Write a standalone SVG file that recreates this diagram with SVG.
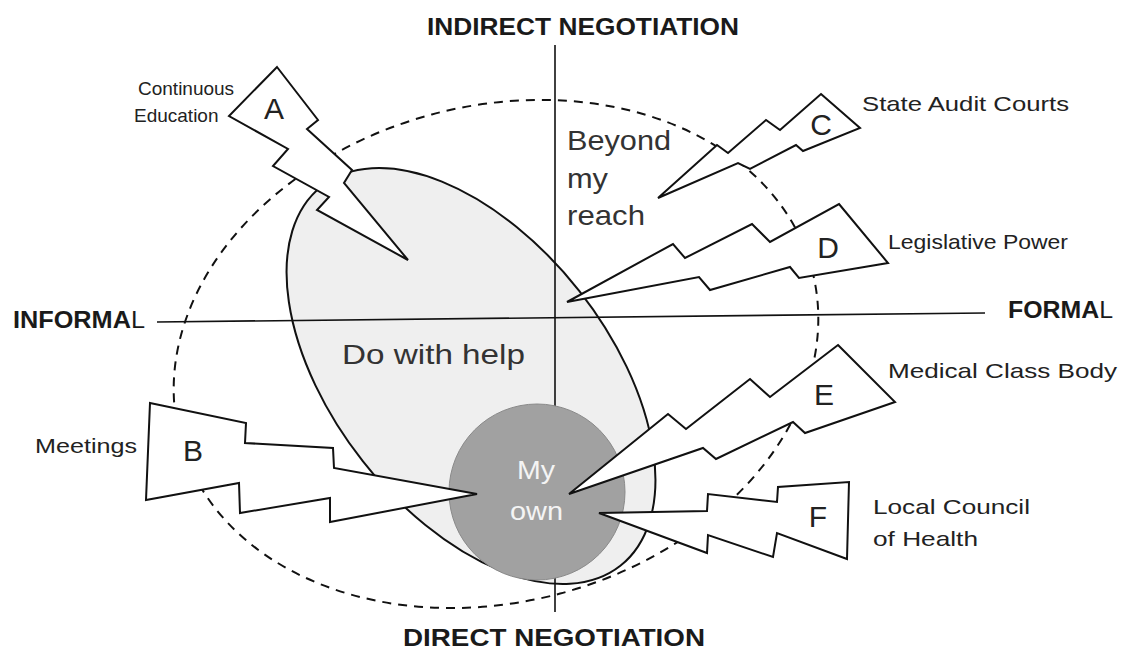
<svg xmlns="http://www.w3.org/2000/svg" width="1124" height="657" viewBox="0 0 1124 657">
  <style>
    .bolt { fill: #ffffff; stroke: #111111; stroke-width: 2; stroke-linejoin: miter; }
    .axis { stroke: #111111; stroke-width: 1.6; fill: none; }
    .head { font-family: "Liberation Sans", Arial, sans-serif; font-weight: bold; font-size: 24px; fill: #1a1a1a; }
    .thin { font-weight: normal; }
    .lbl { font-family: "Liberation Sans", Arial, sans-serif; font-size: 21px; fill: #222222; }
    .lbl-s { font-family: "Liberation Sans", Arial, sans-serif; font-size: 19px; fill: #222222; }
    .big { font-family: "Liberation Sans", Arial, sans-serif; font-size: 28px; fill: #333333; }
    .core { font-family: "Liberation Sans", Arial, sans-serif; font-size: 25px; fill: #f4f4f4; }
    .letter { font-family: "Liberation Sans", Arial, sans-serif; font-size: 30px; fill: #222222; text-anchor: middle; }
  </style>

  <!-- outer boundary of negotiation space -->
  <g id="outer-zone">
    <ellipse cx="496" cy="354" rx="327" ry="248" transform="rotate(-15 496 354)" fill="none" stroke="#111111" stroke-width="2" stroke-dasharray="9 7"/>
  </g>

  <!-- "do with help" zone -->
  <g id="help-zone">
    <ellipse cx="471" cy="376" rx="241.5" ry="137.7" transform="rotate(51.8 471 376)" fill="#efefef" stroke="#111111" stroke-width="2"/>
  </g>

  <!-- axes -->
  <g id="axes">
    <line class="axis" x1="555" y1="45" x2="555" y2="612"/>
    <line class="axis" x1="157" y1="322" x2="985" y2="313"/>
  </g>

  <!-- "my own" core -->
  <g id="own-zone">
    <circle cx="537" cy="492" r="88" fill="#a1a1a1" stroke="#8a8a8a" stroke-width="1"/>
    <text class="core" x="517" y="479" textLength="38" lengthAdjust="spacingAndGlyphs">My</text>
    <text class="core" x="510" y="520" textLength="53" lengthAdjust="spacingAndGlyphs">own</text>
  </g>

  <!-- influences, drawn as lightning bolts -->
  <g id="connectors">
    <path id="bolt-a" class="bolt" d="M277,67 L318,120 L307,129 L352,170 L344,183 L408,260 L317,210 L329,197 L273,166 L288,149 L229,116 Z"/>
    <path id="bolt-b" class="bolt" d="M150,403 L246,423 L245,443 L333,448 L334,468 L477,494 L330,522 L330,498 L240,513 L239,483 L146,500 Z"/>
    <path id="bolt-c" class="bolt" d="M821,94 L860,128 L803,151 L796,145 L750,169 L738,163 L658,198 L717,145 L728,153 L766,120 L780,130 Z"/>
    <path id="bolt-d" class="bolt" d="M839,204 L888,263 L799,278 L790,267 L710,290 L699,277 L567,302 L673,244 L685,258 L752,224 L770,242 Z"/>
    <path id="bolt-e" class="bolt" d="M838,345 L895,402 L805,433 L793,422 L716,459 L703,448 L569,494 L668,414 L686,429 L750,379 L770,397 Z"/>
    <path id="bolt-f" class="bolt" d="M599,513 L707,511 L708,494 L777,502 L778,487 L849,482 L847,559 L777,533 L773,557 L708,535 L707,553 Z"/>
  </g>

  <!-- bolt letters and sources -->
  <g id="node-a">
    <text class="letter" x="274" y="119">A</text>
    <text class="lbl-s" x="138" y="95">Continuous</text>
    <text class="lbl-s" x="134" y="122">Education</text>
  </g>
  <g id="node-b">
    <text class="letter" x="193" y="461">B</text>
    <text class="lbl" x="35" y="453" textLength="102" lengthAdjust="spacingAndGlyphs">Meetings</text>
  </g>
  <g id="node-c">
    <text class="letter" x="821" y="135">C</text>
    <text class="lbl" x="862" y="111" textLength="207" lengthAdjust="spacingAndGlyphs">State Audit Courts</text>
  </g>
  <g id="node-d">
    <text class="letter" x="828" y="258">D</text>
    <text class="lbl" x="888" y="249" textLength="180" lengthAdjust="spacingAndGlyphs">Legislative Power</text>
  </g>
  <g id="node-e">
    <text class="letter" x="824" y="405">E</text>
    <text class="lbl" x="888" y="378" textLength="229" lengthAdjust="spacingAndGlyphs">Medical Class Body</text>
  </g>
  <g id="node-f">
    <text class="letter" x="818" y="527">F</text>
    <text class="lbl" x="873" y="514" textLength="157" lengthAdjust="spacingAndGlyphs">Local Council</text>
    <text class="lbl" x="873" y="546" textLength="105" lengthAdjust="spacingAndGlyphs">of Health</text>
  </g>

  <!-- zone captions -->
  <g id="zone-labels">
    <text class="big" x="567" y="150" textLength="104" lengthAdjust="spacingAndGlyphs">Beyond</text>
    <text class="big" x="567" y="188" textLength="41" lengthAdjust="spacingAndGlyphs">my</text>
    <text class="big" x="567" y="225" textLength="78" lengthAdjust="spacingAndGlyphs">reach</text>
    <text class="big" x="342" y="364" textLength="183" lengthAdjust="spacingAndGlyphs">Do with help</text>
  </g>

  <!-- axis captions -->
  <g id="axis-labels">
    <text class="head" x="427" y="35" textLength="312" lengthAdjust="spacingAndGlyphs">INDIRECT NEGOTIATION</text>
    <text class="head" x="403" y="646" textLength="302" lengthAdjust="spacingAndGlyphs">DIRECT NEGOTIATION</text>
    <text class="head" x="13" y="328" textLength="132" lengthAdjust="spacingAndGlyphs">INFORMA<tspan class="thin">L</tspan></text>
    <text class="head" x="1008" y="318" textLength="105" lengthAdjust="spacingAndGlyphs">FORMA<tspan class="thin">L</tspan></text>
  </g>
</svg>
